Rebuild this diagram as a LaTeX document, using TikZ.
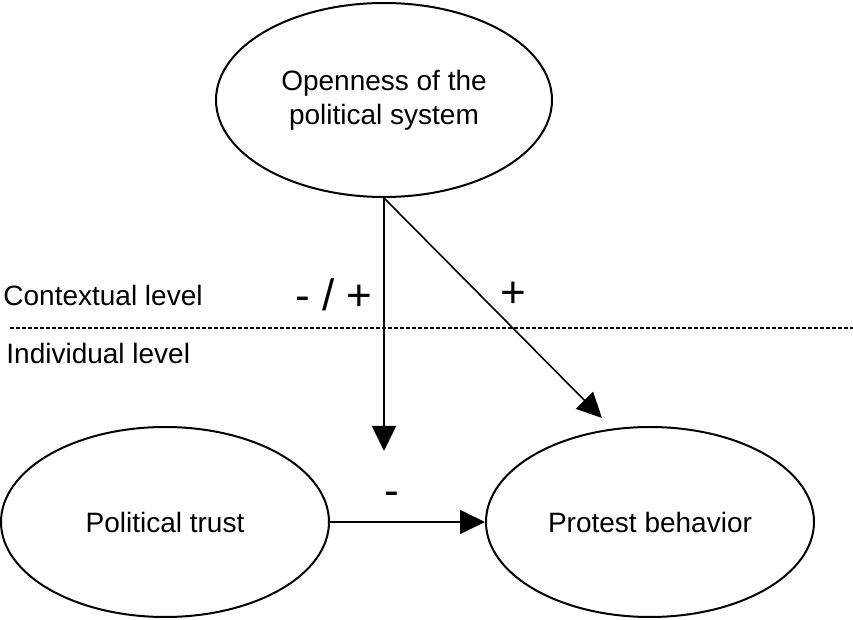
\documentclass[tikz,border=0pt]{standalone}
\usepackage{fontspec}
\setmainfont{Liberation Sans}
\usepackage{tikz}
\usetikzlibrary{shapes.geometric, arrows.meta, positioning, calc}
\definecolor{pathblack}{RGB}{0,0,0}
\tikzset{every node/.append style={align=center}}
\tikzset{
  construct/.style={ellipse, draw=pathblack, line width=1pt,
    minimum width=164pt, minimum height=95pt, inner sep=0pt,
    font=\fontsize{14}{17}\selectfont, align=center},
  lvl/.style={font=\fontsize{14}{17}\selectfont, anchor=west, inner sep=0pt},
  sgn/.style={font=\fontsize{22}{24}\selectfont, inner sep=0pt},
  effect/.style={-{Triangle[length=12.5pt,width=12pt]}, line width=0.8pt, pathblack},
  divider/.style={line width=0.7pt, dash pattern=on 2pt off 1pt, pathblack}
}

\begin{document}
\begin{tikzpicture}[x=0.5pt, y=-0.5pt]
  \useasboundingbox (0,0) rectangle (853,620);
  \node[construct, minimum width=168pt, minimum height=97pt] (open) at (384,100) {Openness of the\\political system};
  \node[construct] (trust) at (165,522) {Political trust};
  \node[construct] (protest) at (650,522) {Protest behavior};
  \coordinate (vtip) at (384,451);
  \coordinate (dtip) at (602,418);
  \coordinate (cutL) at (10,328);
  \coordinate (cutR) at (853,328);
  \draw[divider] (cutL) -- (cutR);
  \node[lvl] (ctx) at (3,295) {Contextual level};
  \node[lvl] (ind) at (6,353) {Individual level};
  \draw[effect] (open.south) -- (vtip);
  \draw[effect] (open.south) -- (dtip);
  \draw[effect] (trust.east) -- (protest.west);
  \node[sgn] (mixed) at (334,295) {- / +};
  \node[sgn] (pos) at (513,295) {+};
  \node[sgn] (neg) at (392,499) {-};
\end{tikzpicture}
\end{document}
